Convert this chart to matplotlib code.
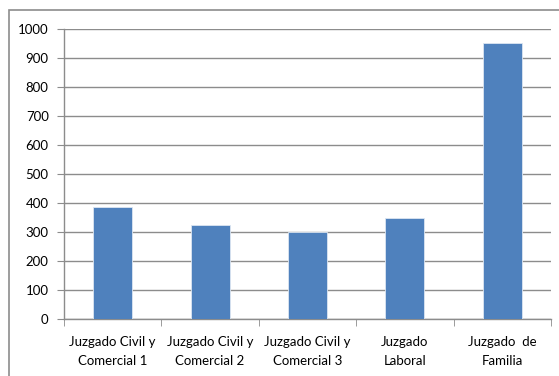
import matplotlib
matplotlib.use('Agg')
import matplotlib.pyplot as plt
from matplotlib.patches import Rectangle

categorias = ['Juzgado Civil y\nComercial 1', 'Juzgado Civil y\nComercial 2',
              'Juzgado Civil y\nComercial 3', 'Juzgado\nLaboral', 'Juzgado  de\nFamilia']
valores = [387, 324, 301, 349, 951]

plt.rcParams['font.family'] = ['Lato', 'DejaVu Sans']

W, H = 559, 376
fig = plt.figure(figsize=(W / 100, H / 100), dpi=100)
fig.patch.set_facecolor('white')

# outer chart border (runs off the right and bottom edges)
fig.patches.append(Rectangle((9 / W, -0.05), 1.2, (H - 10) / H + 0.05,
                             transform=fig.transFigure, fill=False,
                             edgecolor='#8c8c8c', linewidth=1.2))

ax = fig.add_axes([64 / W, (H - 319) / H, (551 - 64) / W, (319 - 29) / H])
x = list(range(len(categorias)))
ax.bar(x, valores, width=0.4, color='#4f81bd', edgecolor='#dce6f2', linewidth=0.6, zorder=3)

ax.set_xlim(-0.5, len(categorias) - 0.5)
ax.set_ylim(0, 1000)
ax.set_yticks(range(0, 1001, 100))
ax.yaxis.grid(True, color='#8c8c8c', linewidth=1, zorder=0)
ax.tick_params(axis='y', length=5, color='#8c8c8c', labelsize=9.5, pad=6)

ax.set_xticks(x)
ax.set_xticklabels(categorias, fontsize=9.5, linespacing=1.7)
ax.tick_params(axis='x', length=0, pad=12)
ax.set_xticks([i + 0.5 for i in range(-1, len(categorias))], minor=True)
ax.tick_params(axis='x', which='minor', length=5, color='#8c8c8c')

for s in ['top', 'right']:
    ax.spines[s].set_visible(False)
for s in ['left', 'bottom']:
    ax.spines[s].set_color('#8c8c8c')
    ax.spines[s].set_linewidth(1)

fig.savefig('out.png', dpi=100)
